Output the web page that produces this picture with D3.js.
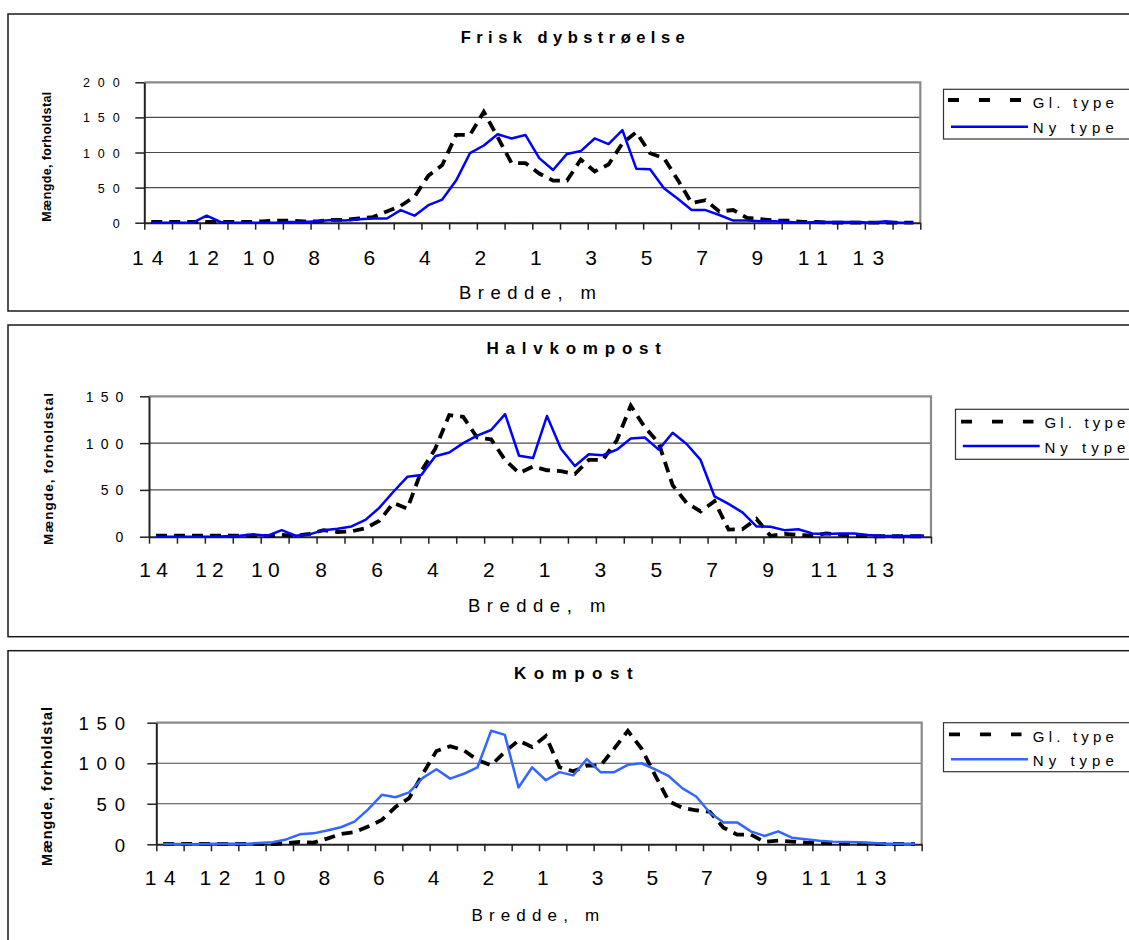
<!DOCTYPE html>
<html>
<head>
<meta charset="utf-8">
<script src="https://cdn.jsdelivr.net/npm/d3@7"></script>
<style>
  body { margin: 0; background: #ffffff; }
  svg { display: block; }
</style>
</head>
<body>
<svg id="chart" width="1129" height="940"></svg>
<script>
// ---- Data -------------------------------------------------------------
// 56 measuring positions across the width; every 4th one carries a label.
const categoryCount = 56;
const tickLabels = ["14", "12", "10", "8", "6", "4", "2", "1", "3", "5", "7", "9", "11", "13"];
const tickLabelCats = [0, 4, 8, 12, 16, 20, 24, 28, 32, 36, 40, 44, 48, 52];
const seriesNames = ["Gl. type", "Ny type"];

// Frisk dybstrøelse
const glFrisk = [1, 1, 1, 1, 1, 1, 1, 1, 2, 3, 3, 2, 2, 4, 4, 6, 8, 16, 24, 37, 67, 82, 125, 125, 158, 122, 85, 85,
                 70, 60, 60, 90, 73, 83, 113, 129, 99, 92, 61, 28, 32, 16, 18, 7, 5, 3, 3, 1, 1, 0, 0, 0, 0, 0, 0, 0];
const nyFrisk  = [0, 0, 0, 0, 10, 1, 0, 0, 0, 0, 1, 1, 2, 4, 3, 5, 6, 6, 18, 10, 25, 33, 60, 99, 110, 126, 120, 125,
                  92, 75, 98, 102, 120, 112, 132, 77, 76, 49, 34, 18, 18, 11, 3, 3, 2, 2, 1, 0, 1, 1, 1, 1, 0, 2, 0, 0];

// Halvkompost
const glHalv = [1, 1, 1, 1, 1, 1, 1, 1, 0.7, 2, 1, 3, 7, 5, 5.7, 9, 17, 36, 30, 70, 94, 130, 128, 106, 104, 82, 68, 75,
                71, 70, 67, 82, 82, 103, 140, 117, 100, 55, 36, 27, 38, 7.5, 8, 19, 1, 3, 2, 1, 3.5, 2, 1, 0.5, 0.5, 0.5, 0.5, 0.5];
const nyHalv = [0, 0, 0, 0, 0, 0.5, 1, 2.5, 1, 7, 1, 2.5, 7, 8.5, 11, 18, 31, 48, 64, 66, 86, 90, 100, 108, 114, 131, 86.5, 84,
                129, 94, 75.5, 88, 87, 93, 105, 106, 93, 111, 99, 82, 43, 35, 26, 11, 10.6, 7, 8, 3.5, 3, 3.5, 3.5, 1.8, 0.7, 0.7, 0.7, 1.4];

// Kompost
const glKomp = [0.5, 0.5, 0.5, 0.5, 0.5, 0.5, 0.5, 0.5, 0.4, 1.2, 3, 2, 7, 12.7, 15, 22, 30, 46, 57, 87, 115, 121, 116, 104, 97.5, 114, 128, 120,
                133.6, 95, 90, 97, 97, 118, 140, 118, 85, 53, 45, 42, 40, 20.5, 12, 12, 3, 4.5, 3.3, 2, 1.6, 1.2, 1, 0.8, 0.6, 0.5, 0.5, 0.5];
const nyKomp = [0.4, 0.4, 0, 0.4, 0.8, 0.8, 0.4, 1.6, 2.5, 6, 12.3, 13.5, 17, 21, 28, 43, 61, 58, 64, 82, 92.5, 81, 87, 95, 140, 135, 70, 95,
                79, 89, 85, 105, 89, 89, 98, 100, 92.5, 84, 69, 59, 39, 27, 27, 16, 10.3, 16, 8.2, 6.2, 4.5, 3.3, 2.9, 2.5, 1.6, 0.8, 0.8, 0.8];

const yTicks200 = [0, 50, 100, 150, 200];
const yTicks150 = [0, 50, 100, 150];

// ---- Panel layout -----------------------------------------------------
const panels = [
  {
    title: "Frisk dybstrøelse", yMax: 200, yTicks: yTicks200, gl: glFrisk, ny: nyFrisk, blue: "#0000ff",
    frameTop: 14, frameBottom: 311,
    x0: 144.3, x1: 920.3, yTop: 82.3, yBot: 222.7,
    titleX: 460.7, titleLen: 224, titleBase: 42.7, titleSize: 16.5,
    yLabSize: 12.5, yLabRight: 119.6, yLabGap: 7.9,
    xLabSize: 21, xLabBase: 265, xLabGap: 8.2, xLabDx: -3.5,
    axTitleX: 459, axTitleLen: 137, axTitleBase: 299.3, axTitleSize: 18.5,
    yTitleBase: 51, yTitleMid: 156.7, yTitleLen: 130, yTitleSize: 12.5,
    legX: 943.5, legY: 89.3, legH: 49.7,
    legDashY: 100, legDashX: [948, 1021.5], legLineY: 126.7, legLineX: [951, 1028],
    legTextX: 1032.8, legBase: [108.3, 132.7]
  },
  {
    title: "Halvkompost", yMax: 150, yTicks: yTicks150, gl: glHalv, ny: nyHalv, blue: "#0000ff",
    frameTop: 325, frameBottom: 636.7,
    x0: 149, x1: 931, yTop: 396.3, yBot: 536.7,
    titleX: 486.4, titleLen: 174.6, titleBase: 354, titleSize: 17,
    yLabSize: 14, yLabRight: 123.2, yLabGap: 7,
    xLabSize: 21, xLabBase: 576.7, xLabGap: 5.2, xLabDx: -2.4,
    axTitleX: 467.9, axTitleLen: 137.5, axTitleBase: 611.7, axTitleSize: 18.5,
    yTitleBase: 52.6, yTitleMid: 469, yTitleLen: 152, yTitleSize: 13.4,
    legX: 955.5, legY: 409.3, legH: 50,
    legDashY: 421.7, legDashX: [961, 1033.5], legLineY: 446, legLineX: [962.8, 1039.7],
    legTextX: 1044.4, legBase: [428.3, 453.3]
  },
  {
    title: "Kompost", yMax: 150, yTicks: yTicks150, gl: glKomp, ny: nyKomp, blue: "#3366ff",
    frameTop: 650.7, frameBottom: 980,
    x0: 156.3, x1: 921.7, yTop: 722.7, yBot: 844.3,
    titleX: 514, titleLen: 118.6, titleBase: 679.3, titleSize: 17,
    yLabSize: 18.6, yLabRight: 125, yLabGap: 7.7,
    xLabSize: 21, xLabBase: 885, xLabGap: 7.7, xLabDx: -2.9,
    axTitleX: 471.4, axTitleLen: 127.8, axTitleBase: 920.7, axTitleSize: 17,
    yTitleBase: 52.4, yTitleMid: 786.5, yTitleLen: 159, yTitleSize: 14.4,
    legX: 943.5, legY: 722.7, legH: 49,
    legDashY: 734.3, legDashX: [949, 1021.5], legLineY: 759.3, legLineX: [951, 1028],
    legTextX: 1032.8, legBase: [741.7, 765.7]
  }
];

// ---- Drawing ----------------------------------------------------------
const FONT = "'Liberation Sans', Arial, Helvetica, sans-serif";
const DASH = "11,7";
const LEGEND_DASH = "11,20";
const svg = d3.select("#chart");

function fittedText(g, str, x, y, size, len, weight) {
  return g.append("text")
    .attr("x", x).attr("y", y)
    .attr("font-family", FONT)
    .attr("font-size", size)
    .attr("font-weight", weight || "normal")
    .attr("fill", "#000")
    .attr("textLength", len)
    .attr("lengthAdjust", "spacing")
    .text(str);
}

panels.forEach(p => {
  const g = svg.append("g");

  // outer frame of the chart object
  g.append("rect")
    .attr("x", 8).attr("y", p.frameTop)
    .attr("width", 1150).attr("height", p.frameBottom - p.frameTop)
    .attr("fill", "none").attr("stroke", "#1a1a1a").attr("stroke-width", 1.5);

  const x = d3.scaleBand().domain(d3.range(categoryCount)).range([p.x0, p.x1]);
  const xEdge = d3.scaleLinear().domain([0, categoryCount]).range([p.x0, p.x1]);
  const y = d3.scaleLinear().domain([0, p.yMax]).range([p.yBot, p.yTop]);

  // horizontal gridlines
  g.append("g").selectAll("line")
    .data(p.yTicks.filter(v => v > 0 && v < p.yMax))
    .join("line")
    .attr("x1", p.x0).attr("x2", p.x1)
    .attr("y1", d => y(d)).attr("y2", d => y(d))
    .attr("stroke", "#4a4a4a").attr("stroke-width", 1.2);

  // plot-area border (top and right)
  g.append("path")
    .attr("d", `M${p.x0},${y(p.yMax)}H${p.x1}V${p.yBot}`)
    .attr("fill", "none").attr("stroke", "#8a8a8a").attr("stroke-width", 2.2);

  // y axis
  const yAxis = g.append("g")
    .attr("transform", `translate(${p.x0},0)`)
    .call(d3.axisLeft(y).tickValues(p.yTicks).tickSize(9).tickSizeOuter(0));
  yAxis.select(".domain").attr("stroke", "#222").attr("stroke-width", 2);
  yAxis.selectAll(".tick line").attr("stroke", "#222").attr("stroke-width", 1.5);
  yAxis.selectAll(".tick text")
    .attr("font-family", FONT).attr("font-size", p.yLabSize).attr("fill", "#000")
    .style("letter-spacing", p.yLabGap + "px")
    .attr("x", p.yLabRight - p.x0 + p.yLabGap)
    .attr("dy", "0.36em");

  // x axis line with tick marks every second category
  const xTicks = g.append("g")
    .attr("transform", `translate(0,${p.yBot})`)
    .call(d3.axisBottom(xEdge).tickValues(d3.range(0, categoryCount + 1, 2)).tickSize(7).tickSizeOuter(0).tickFormat(""));
  xTicks.select(".domain").attr("stroke", "#222").attr("stroke-width", 2);
  xTicks.selectAll(".tick line").attr("stroke", "#222").attr("stroke-width", 1.5);

  // category labels
  const xLabels = g.append("g")
    .attr("transform", `translate(0,${p.xLabBase})`)
    .call(d3.axisBottom(x).tickValues(tickLabelCats).tickSize(0).tickFormat((d, i) => tickLabels[i]));
  xLabels.select(".domain").remove();
  xLabels.selectAll(".tick text")
    .attr("font-family", FONT).attr("font-size", p.xLabSize).attr("fill", "#000")
    .style("letter-spacing", p.xLabGap + "px")
    .attr("y", 0).attr("dy", 0)
    .attr("dx", p.xLabGap / 2 + p.xLabDx);

  // series
  const line = d3.line().x((d, i) => x(i) + x.bandwidth() / 2).y(d => y(d));
  g.append("path").datum(p.gl).attr("d", line)
    .attr("fill", "none").attr("stroke", "#000").attr("stroke-width", 3.8)
    .attr("stroke-dasharray", DASH);
  g.append("path").datum(p.ny).attr("d", line)
    .attr("fill", "none").attr("stroke", p.blue).attr("stroke-width", 2.5)
    .attr("stroke-linejoin", "round");

  // titles
  fittedText(g, p.title, p.titleX, p.titleBase, p.titleSize, p.titleLen, "bold");
  fittedText(g, "Bredde, m", p.axTitleX, p.axTitleBase, p.axTitleSize, p.axTitleLen, "normal");
  g.append("text")
    .attr("transform", `translate(${p.yTitleBase},${p.yTitleMid}) rotate(-90)`)
    .attr("text-anchor", "middle")
    .attr("font-family", FONT).attr("font-size", p.yTitleSize).attr("font-weight", "bold")
    .attr("textLength", p.yTitleLen).attr("lengthAdjust", "spacing")
    .text("Mængde, forholdstal");

  // legend
  const leg = g.append("g");
  leg.append("rect")
    .attr("x", p.legX).attr("y", p.legY).attr("width", 1150 - p.legX).attr("height", p.legH)
    .attr("fill", "#fff").attr("stroke", "#333").attr("stroke-width", 1.2);
  leg.append("line")
    .attr("x1", p.legDashX[0]).attr("x2", p.legDashX[1])
    .attr("y1", p.legDashY).attr("y2", p.legDashY)
    .attr("stroke", "#000").attr("stroke-width", 3.8).attr("stroke-dasharray", LEGEND_DASH);
  leg.append("line")
    .attr("x1", p.legLineX[0]).attr("x2", p.legLineX[1])
    .attr("y1", p.legLineY).attr("y2", p.legLineY)
    .attr("stroke", p.blue).attr("stroke-width", 2.5);
  seriesNames.forEach((name, k) => {
    fittedText(leg, name, p.legTextX, p.legBase[k], 15, 81, "normal");
  });
});
</script>
</body>
</html>
